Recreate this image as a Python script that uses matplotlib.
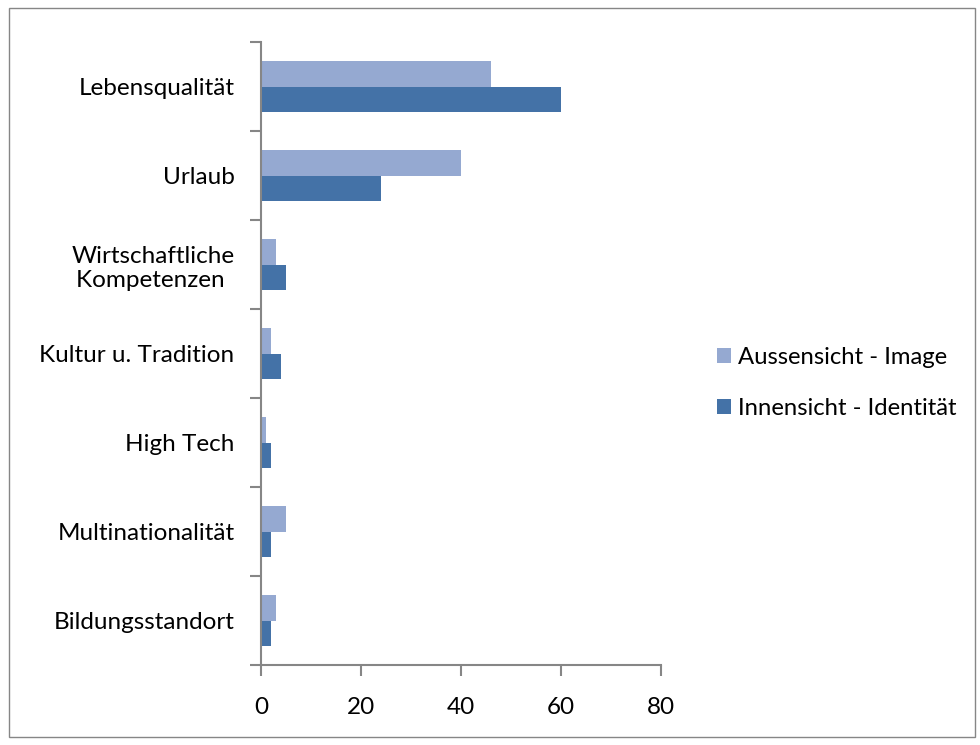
import matplotlib.pyplot as plt
from matplotlib.patches import Rectangle
import numpy as np

plt.rcParams['font.family'] = ['Lato', 'DejaVu Sans']

categories = ["Lebensqualität", "Urlaub", "Wirtschaftliche\nKompetenzen ",
              "Kultur u. Tradition", "High Tech", "Multinationalität",
              "Bildungsstandort"]
aussen = [46, 40, 3, 2, 1, 5, 3]
innen = [60, 24, 5, 4, 2, 2, 2]
series_names = ["Aussensicht - Image", "Innensicht - Identität"]

light = "#95A9D1"
dark = "#4472A7"
axis_grey = "#868686"
fs = 17.5

fig = plt.figure(figsize=(9.8, 7.45), dpi=100)
ax = fig.add_axes([261/980, 1 - 665/745, 400/980, 623/745])

# first category at the top
y = np.arange(len(categories))[::-1]
h = 0.287
ax.barh(y + h/2, aussen, height=h, color=light, label=series_names[0])
ax.barh(y - h/2, innen, height=h, color=dark, label=series_names[1])

ax.set_xlim(0, 80)
ax.set_ylim(-0.5, len(categories) - 0.5)
ax.set_xticks([0, 20, 40, 60, 80])
ax.tick_params(axis='x', length=8, width=1.5, color=axis_grey, labelsize=fs, pad=15)

ax.set_yticks(np.arange(-0.5, len(categories), 1.0))
ax.set_yticklabels([])
ax.tick_params(axis='y', which='major', length=8, width=1.5, color=axis_grey)
ax.set_yticks(y, minor=True)
ax.set_yticklabels(categories, minor=True, multialignment='center')
ax.tick_params(axis='y', which='minor', length=0, labelsize=fs, pad=19)

for s in ['top', 'right']:
    ax.spines[s].set_visible(False)
for s in ['left', 'bottom']:
    ax.spines[s].set_color(axis_grey)
    ax.spines[s].set_linewidth(1.5)

ax.legend(loc='center left', bbox_to_anchor=(707/980, 1 - 383/745),
          bbox_transform=fig.transFigure, frameon=False, fontsize=17.2,
          handlelength=0.6, handleheight=0.6, handletextpad=0.3,
          labelspacing=1.25, borderaxespad=0)

# outer chart border
fig.add_artist(Rectangle((9/980, 8/745), 966/980, 729/745,
                         transform=fig.transFigure, fill=False,
                         edgecolor=axis_grey, linewidth=1))

fig.savefig("out.png", dpi=100)
